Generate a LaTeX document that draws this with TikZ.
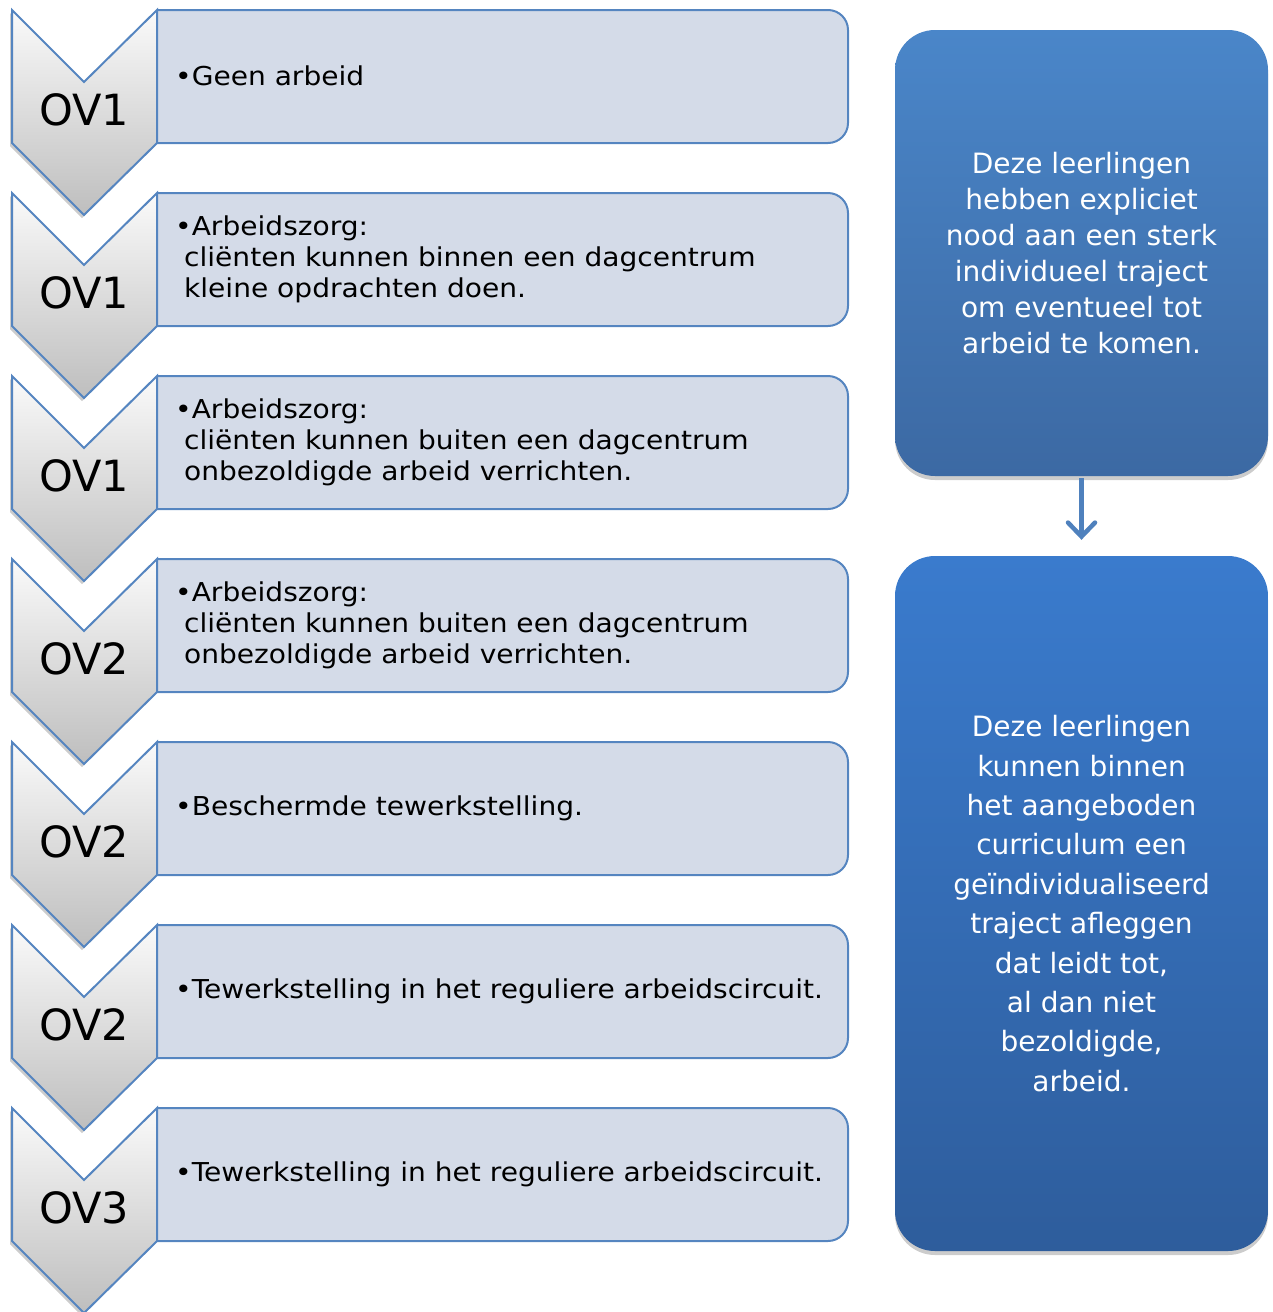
\documentclass[tikz,border=0pt]{standalone}
\usepackage{fontspec}
\setmainfont{DejaVu Sans}
\newfontfamily\widefont[FakeStretch=1.08]{DejaVu Sans}
\usetikzlibrary{arrows.meta,shadows}
\definecolor{edgeblue}{HTML}{5585C0}
\definecolor{boxfill}{HTML}{D4DBE8}
\definecolor{chevtop}{HTML}{FAFAFA}
\definecolor{chevbot}{HTML}{BEBEBE}
\definecolor{atop}{HTML}{4A86C9}
\definecolor{abot}{HTML}{3C69A3}
\definecolor{btop}{HTML}{3A7BCD}
\definecolor{bbot}{HTML}{2E5D9C}
\definecolor{arrowblue}{HTML}{4F81BD}
\tikzset{
  listbox/.style={draw=edgeblue, line width=2pt, fill=boxfill, rounded corners=20pt},
  edgeline/.style={draw=edgeblue, line width=2pt},
  chev/.style={draw=edgeblue, line width=2pt, top color=chevtop, bottom color=chevbot,
    drop shadow={shadow xshift=-2pt, shadow yshift=-3pt, opacity=0.2, fill=black}},
  ovlabel/.style={font=\fontsize{43}{50}\selectfont, inner sep=0pt},
  listtext/.style={anchor=west, align=left, inner sep=0pt, font=\widefont\fontsize{26}{31}\selectfont},
  bluebox/.style={rounded corners=40pt, text=white, align=center, inner sep=0pt,
    minimum width=373pt,
    drop shadow={shadow xshift=0pt, shadow yshift=-4pt, opacity=0.2, fill=black}},
  flowarrow/.style={draw=arrowblue, line width=4.5pt, -{Straight Barb[length=14pt, width=27pt, line cap=round]}}
}
\newcommand{\ovrow}[3]{%
  \pgfmathsetmacro\ya{10+183*#1}%
  \pgfmathsetmacro\yb{\ya+133}%
  \pgfmathsetmacro\yn{\ya+72}%
  \pgfmathsetmacro\yp{\ya+205}%
  \begin{scope}
    \clip (157,\ya-3) rectangle (860,\yb+3);
    \path[listbox] (120,\ya) rectangle (848,\yb);
  \end{scope}
  \draw[edgeline] (157,\ya) -- (157,\yb);
  \path[chev] (12,\ya) -- (84,\yn) -- (157,\ya) -- (157,\yb) -- (84,\yp) -- (12,\yb) -- cycle;
  \node[ovlabel] (ov#1) at (84,\ya+100) {#2};
  \node[listtext] (tx#1) at (175,\ya+66) {#3};
}
\begin{document}
\begin{tikzpicture}[x=1pt,y=-1pt]
\useasboundingbox (0,0) rectangle (1272,1312);
\ovrow{0}{OV1}{•Geen arbeid}
\ovrow{1}{OV1}{•Arbeidszorg:\\ \ cliënten kunnen binnen een dagcentrum\\ \ kleine opdrachten doen.}
\ovrow{2}{OV1}{•Arbeidszorg:\\ \ cliënten kunnen buiten een dagcentrum\\ \ onbezoldigde arbeid verrichten.}
\ovrow{3}{OV2}{•Arbeidszorg:\\ \ cliënten kunnen buiten een dagcentrum\\ \ onbezoldigde arbeid verrichten.}
\ovrow{4}{OV2}{•Beschermde tewerkstelling.}
\ovrow{5}{OV2}{•Tewerkstelling in het reguliere arbeidscircuit.}
\ovrow{6}{OV3}{•Tewerkstelling in het reguliere arbeidscircuit.}

\node[bluebox, top color=atop, bottom color=abot, minimum height=446pt,
  font=\fontsize{28}{36}\selectfont] (ra) at (1081.5,253)
  {Deze leerlingen\\hebben expliciet\\nood aan een sterk\\individueel traject\\om eventueel tot\\arbeid te komen.};
\node[bluebox, top color=btop, bottom color=bbot, minimum height=695pt,
  font=\fontsize{28}{39.4}\selectfont] (rb) at (1081.5,903.5)
  {Deze leerlingen\\kunnen binnen\\het aangeboden\\curriculum een\\geïndividualiseerd\\traject afleggen\\dat leidt tot,\\al dan niet\\bezoldigde,\\arbeid.};
\draw[flowarrow, shorten <=2pt, shorten >=16pt] (ra.south) -- (rb.north);
\end{tikzpicture}
\end{document}
